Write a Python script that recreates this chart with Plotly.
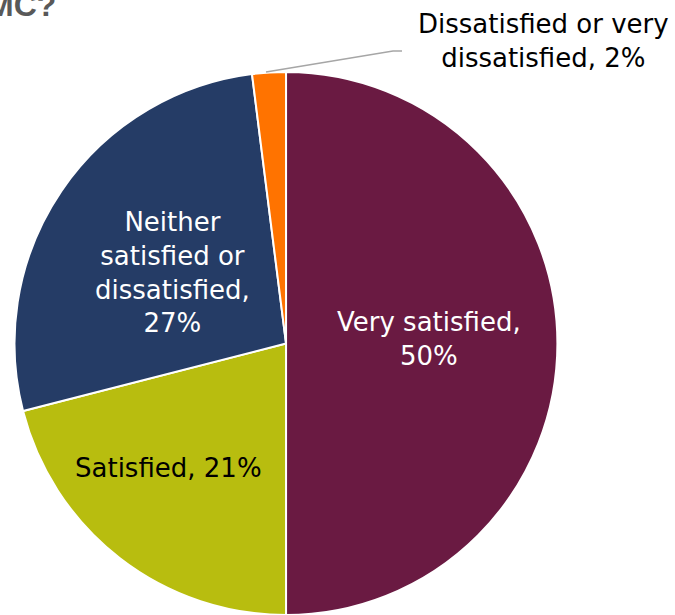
import plotly.graph_objects as go

# Satisfaction shares, clockwise from 12 o'clock
categories = ["Very satisfied", "Satisfied", "Neither satisfied or dissatisfied", "Dissatisfied or very dissatisfied"]
values = [50, 21, 27, 2]
colors = ["#6A1A42", "#B8BD0F", "#253C66", "#FF7300"]

W, H = 675, 615
FONT = "DejaVu Sans"

fig = go.Figure(go.Pie(
    labels=categories,
    values=values,
    sort=False,
    direction="clockwise",
    rotation=0,
    marker=dict(colors=colors, line=dict(color="white", width=2)),
    textinfo="none",
    hoverinfo="label+percent",
    showlegend=False,
    domain=dict(x=[0.0215, 0.826], y=[0.0, 0.883]),
))


def px(x, y):
    return x / W, 1 - y / H


labels = [
    ("Very satisfied,<br>50%", 429, 339, "white"),
    ("Neither<br>satisfied or<br>dissatisfied,<br>27%", 172, 273, "white"),
    ("Satisfied, 21%", 168, 468, "black"),
    ("Dissatisfied or very<br>dissatisfied, 2%", 543, 41, "black"),
]
annotations = []
for text, x, y, col in labels:
    ax, ay = px(x, y)
    annotations.append(dict(
        text=text, x=ax, y=ay, xref="paper", yref="paper",
        xanchor="center", yanchor="middle", showarrow=False, align="center",
        font=dict(family=FONT, size=26, color=col),
    ))

# Chart title (runs off the top-left edge)
tx, ty = px(58, 25)
annotations.append(dict(
    text="<b>MC?</b>", x=tx, y=ty, xref="paper", yref="paper",
    xanchor="right", yanchor="bottom", showarrow=False,
    font=dict(family="Liberation Sans Narrow, Liberation Sans", size=32, color="#595959"),
))

# Leader line for the small slice
p0, p1, p2 = px(266, 72), px(393, 51), px(402, 51)
leader = dict(
    type="path", xref="paper", yref="paper",
    path=f"M {p0[0]},{p0[1]} L {p1[0]},{p1[1]} L {p2[0]},{p2[1]}",
    line=dict(color="#A6A6A6", width=1.5),
)

fig.update_layout(
    width=W, height=H,
    margin=dict(l=0, r=0, t=0, b=0),
    paper_bgcolor="white",
    plot_bgcolor="white",
    annotations=annotations,
    shapes=[leader],
)

fig.write_html("out.html")
